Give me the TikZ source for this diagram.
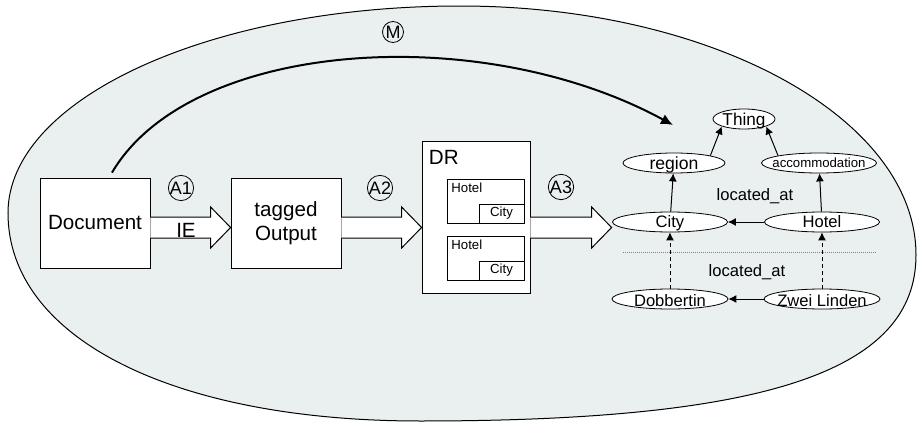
\documentclass[tikz,border=0pt]{standalone}
\usepackage{fontspec}
\setmainfont{Liberation Sans}
\usepackage{tikz}
\usetikzlibrary{calc,shapes,arrows.meta,positioning}
\definecolor{bgfill}{RGB}{234,240,240}
\newcommand{\fsbig}{\fontsize{10.3}{12}\selectfont}
\newcommand{\fsnode}{\fontsize{8.3}{9.6}\selectfont}
\newcommand{\fssmall}{\fontsize{6.6}{8}\selectfont}
\newcommand{\fscirc}{\fontsize{9}{10}\selectfont}
\newcommand{\ctext}[1]{\makebox[0pt]{\raisebox{-0.36em}[0pt][0pt]{#1}}}
\tikzstyle{box}=[draw, fill=white, minimum width=55pt, minimum height=45pt, inner sep=0, font=\fsbig, align=center]
\tikzstyle{inbox}=[draw, fill=white, minimum width=38.5pt, minimum height=22pt, inner sep=0]
\tikzstyle{subbox}=[draw, fill=white, minimum width=22.5pt, minimum height=9.5pt, inner sep=0, font=\fssmall]
\tikzstyle{concept}=[draw, ellipse, fill=white, minimum width=57.5pt, minimum height=10pt, inner sep=0, font=\fsnode]
\tikzstyle{circ}=[draw, circle, minimum size=10.5pt, inner sep=0, font=\fscirc]
\tikzstyle{arrow}=[-{Latex[length=4pt,width=4pt]}, line width=0.5pt]
\tikzstyle{marrow}=[-{Latex[length=6pt,width=5.5pt]}, line width=1pt]
\tikzstyle{fat}=[draw, fill=white, line width=0.5pt, line join=miter]
\tikzstyle{sep}=[gray, dash pattern=on 0.5pt off 0.5pt, line width=0.4pt]
\newcommand{\fatarrow}[2]{%
  \draw[fat] ($(#1)+(0,-10.5)$) -- ($(#2)+(-20,-10.5)$) -- ($(#2)+(-20,-20.5)$)
    -- (#2) -- ($(#2)+(-20,20.5)$) -- ($(#2)+(-20,10.5)$) -- ($(#1)+(0,10.5)$);}

\begin{document}
\begin{tikzpicture}[x=0.5pt, y=-0.5pt]
  \useasboundingbox (0,0) rectangle (917,423);

  % surrounding area
  \filldraw[fill=bgfill, draw=black, line width=0.5pt]
    (460,6) .. controls (712,6) and (916,118) .. (916,255)
    .. controls (916,371) and (767,421) .. (420,421)
    .. controls (173,421) and (8,338) .. (8,213)
    .. controls (8,99) and (210,6) .. (460,6) -- cycle;

  % processing chain
  \node[box] (doc) at (95,223) {Document};
  \node[box] (tagged) at (286,223) {tagged\\Output};
  \node[box, minimum width=54pt, minimum height=76pt] (DR) at (476,217) {};
  \node[font=\fsbig, inner sep=0, anchor=west] (DRlabel) at (428.5,157) {DR};

  \node[inbox] (h1) at (485.5,201) {};
  \node[font=\fssmall, inner sep=0, anchor=west] (h1label) at (451,188) {Hotel};
  \node[subbox] (c1) at (501.5,213.5) {City};
  \node[inbox] (h2) at (485.5,258) {};
  \node[font=\fssmall, inner sep=0, anchor=west] (h2label) at (451,245) {Hotel};
  \node[subbox] (c2) at (501.5,270.5) {City};

  % ontology
  \node[concept, minimum width=31pt, font=\fontsize{8.6}{10}\selectfont] (Thing) at (744,119) {\ctext{Thing}};
  \node[concept, minimum width=51pt, font=\fontsize{8.8}{10}\selectfont] (region) at (674,163) {\ctext{region}};
  \node[concept, font=\fssmall] (accommodation) at (819,163) {\ctext{accommodation}};
  \node[concept] (City) at (670,222) {\ctext{City}};
  \node[concept] (Hotel) at (822,222) {\ctext{Hotel}};
  \node[concept, minimum width=58pt] (Dobbertin) at (670,299) {\ctext{\raisebox{-1pt}{Dobbertin}}};
  \node[concept, minimum width=58pt] (ZweiLinden) at (822,299) {\ctext{\raisebox{-1pt}{Zwei Linden}}};
  \node[font=\fsnode] (loc1) at (755,196) {located\_at};
  \node[font=\fsnode] (loc2) at (747,272) {located\_at};
  \coordinate (sepL) at (623,252);
  \coordinate (sepR) at (877,252);

  % fat arrows
  \coordinate (a1s) at ($(doc.east)+(0,4.5)$);
  \coordinate (a1e) at ($(tagged.west)+(0,4.5)$);
  \coordinate (a2s) at ($(tagged.east)+(0,4.5)$);
  \coordinate (a2e) at ($(tagged.east -| DR.west)+(0,4.5)$);
  \coordinate (a3s) at ($(tagged.east -| DR.east)+(0,4.5)$);
  \coordinate (a3e) at ($(tagged.east -| City.west)+(-0.5,4.5)$);
  \fatarrow{a1s}{a1e}
  \fatarrow{a2s}{a2e}
  \fatarrow{a3s}{a3e}
  \node[font=\fsbig, inner sep=0] (IE) at (186,230) {IE};

  \node[circ] (A1) at (181,188) {A1};
  \node[circ] (A2) at (380,188) {A2};
  \node[circ] (A3) at (561,187) {A3};
  \node[circ] (M) at (393,32) {M};

  % mapping
  \coordinate (Mend) at (673,125);
  \draw[marrow] ([xshift=8.5pt, yshift=2.5pt]doc.north) .. controls (190,40) and (480,20) .. (Mend);

  \draw[arrow] (region.north east) -- (Thing.south west);
  \draw[arrow] (accommodation.north west) -- (Thing.south east);
  \draw[arrow] (City) -- (region);
  \draw[arrow] (Hotel) -- (accommodation);
  \draw[arrow] (Hotel) -- (City);
  \draw[arrow] (ZweiLinden) -- (Dobbertin);
  \draw[arrow, dash pattern=on 2pt off 1.5pt] (Dobbertin) -- (City);
  \draw[arrow, dash pattern=on 2pt off 1.5pt] (ZweiLinden) -- (Hotel);
  \draw[sep] (sepL) -- (sepR);

\end{tikzpicture}
\end{document}
